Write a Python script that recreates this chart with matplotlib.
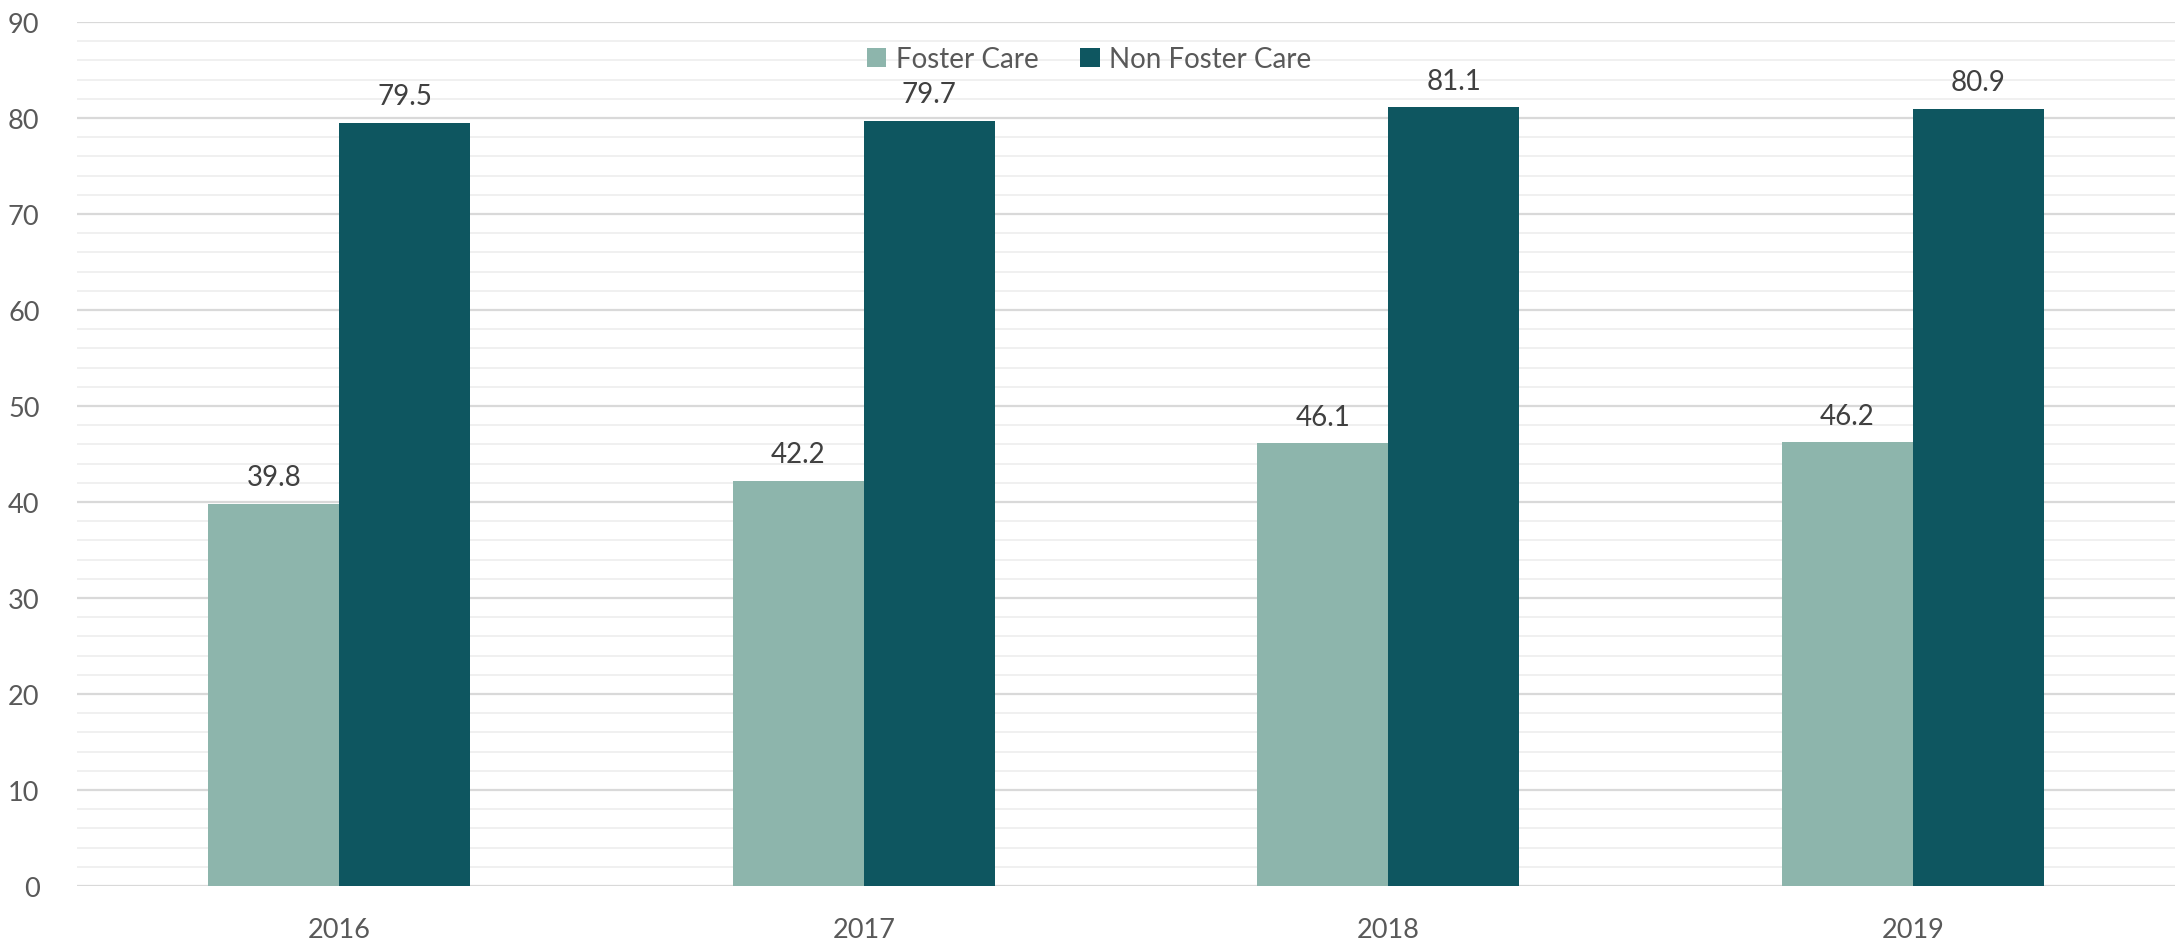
import matplotlib.pyplot as plt
import numpy as np

years = ['2016', '2017', '2018', '2019']
foster_care = [39.8, 42.2, 46.1, 46.2]
non_foster_care = [79.5, 79.7, 81.1, 80.9]

LIGHT = '#8db5ac'
DARK = '#0e5660'

plt.rcParams['font.family'] = ['Lato', 'DejaVu Sans']

fig = plt.figure(figsize=(21.78, 9.45), dpi=100)
ax = fig.add_axes([0.0354, 0.0614, 0.9632, 0.9143])

x = np.arange(len(years))
w = 0.25
b1 = ax.bar(x - w / 2, foster_care, w, color=LIGHT, label='Foster Care', zorder=3)
b2 = ax.bar(x + w / 2, non_foster_care, w, color=DARK, label='Non Foster Care', zorder=3)

for bars in (b1, b2):
    for rect in bars:
        ax.annotate(f'{rect.get_height():.1f}', (rect.get_x() + rect.get_width() / 2, rect.get_height()),
                    xytext=(0, 10), textcoords='offset points', ha='center', va='bottom',
                    fontsize=20, color='#404040')

ax.set_xlim(-0.5, 3.5)
ax.set_ylim(0, 90)
ax.set_xticks(x, years)
ax.set_yticks(np.arange(0, 91, 10))
ax.set_yticks(np.arange(0, 91, 2), minor=True)
ax.grid(axis='y', which='major', color='#d9d9d9', linewidth=1.6, zorder=0)
ax.grid(axis='y', which='minor', color='#f0f0f0', linewidth=1.4, zorder=0)
ax.tick_params(axis='both', which='both', length=0, labelsize=19.5, labelcolor='#595959')
ax.tick_params(axis='y', pad=27)
ax.tick_params(axis='x', pad=22)
for s in ax.spines.values():
    s.set_visible(False)

fig.legend(loc='center', bbox_to_anchor=(0.5, 1 - 60 / 945), ncol=2, frameon=False,
           fontsize=20, handlelength=0.7, handleheight=0.7, columnspacing=1.5,
           handletextpad=0.35, labelcolor='#595959')

fig.savefig('out.png', dpi=100)
